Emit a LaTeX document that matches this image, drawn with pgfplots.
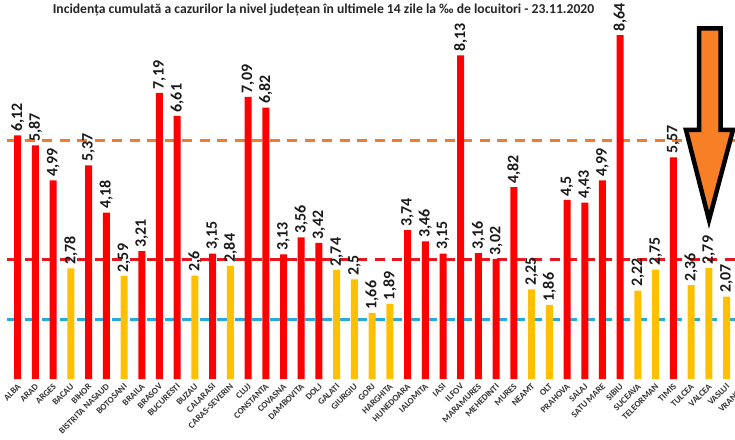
\documentclass[border=0pt]{standalone}
\usepackage{pgfplots}
\pgfplotsset{compat=1.18}
\usepackage{fontspec}
\setmainfont{Carlito}
\definecolor{barred}{RGB}{255,0,0}
\definecolor{baryel}{RGB}{255,192,0}
\definecolor{dashor}{RGB}{237,125,49}
\definecolor{dashred}{RGB}{228,24,32}
\definecolor{dashblue}{RGB}{40,168,224}
\definecolor{arroworange}{RGB}{247,127,38}
\begin{document}
\begin{tikzpicture}
\begin{axis}[name=ax, scale only axis, x=17.72bp, y=39.8bp,
  xmin=-1, xmax=41.5, ymin=0, ymax=9.52, clip=false,
  axis line style={draw=none}, major tick length=0pt, ytick=\empty,
  xtick={0,...,41},
  xticklabels={ALBA,ARAD,ARGES,BACAU,BIHOR,BISTRITA NASAUD,BOTOSANI,BRAILA,BRASOV,BUCURESTI,BUZAU,CALARASI,CARAS-SEVERIN,CLUJ,CONSTANTA,COVASNA,DAMBOVITA,DOLJ,GALATI,GIURGIU,GORJ,HARGHITA,HUNEDOARA,IALOMITA,IASI,ILFOV,MARAMURES,MEHEDINTI,MURES,NEAMT,OLT,PRAHOVA,SALAJ,SATU MARE,SIBIU,SUCEAVA,TELEORMAN,TIMIS,TULCEA,VALCEA,VASLUI,VRANCEA},
  xticklabel style={font=\bfseries\fontsize{9}{9}\selectfont, color=black!80, xshift=1.5bp, yshift=-6bp, rotate=45, anchor=east, inner sep=0pt},
  /pgf/number format/.cd, use comma, fixed, precision=2, assume math mode=true]
\addplot[dashor, line width=3bp, dash pattern=on 10bp off 7.5bp, forget plot] coordinates {(-0.6,6) (41.5,6)};
\addplot[dashred, line width=3bp, dash pattern=on 10bp off 7.5bp, forget plot] coordinates {(-0.6,3) (41.5,3)};
\addplot[dashblue, line width=3bp, dash pattern=on 10bp off 7.5bp, forget plot] coordinates {(-0.6,1.5) (41.5,1.5)};
\addplot[ybar, bar width=7bp, bar shift=0pt, fill=barred, draw=none,
  nodes near coords, nodes near coords style={font=\bfseries\fontsize{16}{16}\selectfont, rotate=90, anchor=west, inner xsep=3.5bp, inner ysep=0pt, color=black!90}]
  coordinates {(0,6.12) (1,5.87) (2,4.99) (4,5.37) (5,4.18) (7,3.21) (8,7.19) (9,6.61) (11,3.15) (13,7.09) (14,6.82) (15,3.13) (16,3.56) (17,3.42) (22,3.74) (23,3.46) (24,3.15) (25,8.13) (26,3.16) (27,3.02) (28,4.82) (31,4.5) (32,4.43) (33,4.99) (34,8.64) (37,5.57)};
\addplot[ybar, bar width=7bp, bar shift=0pt, fill=baryel, draw=none,
  nodes near coords, nodes near coords style={font=\bfseries\fontsize{16}{16}\selectfont, rotate=90, anchor=west, inner xsep=3.5bp, inner ysep=0pt, color=black!90}]
  coordinates {(3,2.78) (6,2.59) (10,2.6) (12,2.84) (18,2.74) (19,2.5) (20,1.66) (21,1.89) (29,2.25) (30,1.86) (35,2.22) (36,2.75) (38,2.36) (39,2.79) (40,2.07)};
\end{axis}
\node[font=\bfseries\fontsize{13.7}{15}\selectfont, color=black!85] at ([xshift=323.5bp,yshift=369.5bp]ax.south west) {Incidența cumulată a cazurilor la nivel județean în ultimele 14 zile la ‰ de locuitori - 23.11.2020};
\begin{scope}[shift={(ax.south west)}, x=1bp, y=1bp]
\filldraw[fill=arroworange, draw=black, line width=4.5bp, line join=miter] (699,350.5) -- (720.5,350.5) -- (720.5,249) -- (733,249) -- (709,159) -- (686,249) -- (699,249) -- cycle;
\end{scope}
\pgfresetboundingbox
\path[use as bounding box] ([yshift=-61bp]ax.south west) rectangle ([xshift=735bp, yshift=379bp]ax.south west);
\end{tikzpicture}
\end{document}
